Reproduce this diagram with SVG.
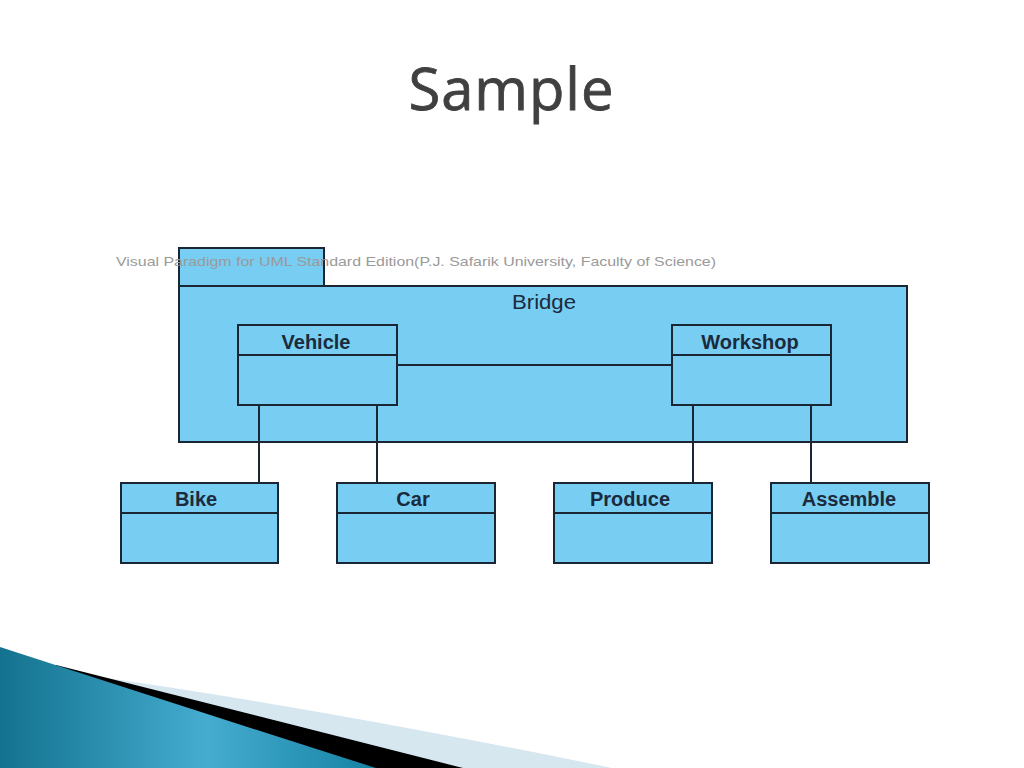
<svg xmlns="http://www.w3.org/2000/svg" width="1024" height="768" viewBox="0 0 1024 768">
<defs>
<linearGradient id="teal" x1="0" y1="0" x2="1" y2="0">
<stop offset="0" stop-color="#13728f"/>
<stop offset="0.55" stop-color="#45acd0"/>
<stop offset="1" stop-color="#1683a3"/>
</linearGradient>
<style>
.box{fill:#78cdf2;stroke:#1b2635;stroke-width:2}
.ln{stroke:#1b2635;stroke-width:2;fill:none}
.cls{font-family:"Liberation Sans",Arial,sans-serif;font-weight:bold;font-size:20px;fill:#1b2a3c;text-anchor:middle}
</style>
</defs>
<rect width="1024" height="768" fill="#ffffff"/>
<g id="decoration">
<path d="M100,677 Q330,710 612,768 L100,768 Z" fill="#d6e7f0"/>
<path d="M56,665 L463,768 L56,768 Z" fill="#000000"/>
<path d="M0,647 Q200,712 376,768 L0,768 Z" fill="url(#teal)"/>
</g>
<text x="511" y="110" font-family="Open Sans, DejaVu Sans, sans-serif" font-size="58" fill="#404040" stroke="#404040" stroke-width="0.8" text-anchor="middle" textLength="205">Sample</text>
<g id="bridge">
<rect class="box" x="179" y="248" width="145" height="38"/>
<rect class="box" x="179" y="286" width="728" height="156"/>
<text x="544" y="309" font-family="Liberation Sans, Arial, sans-serif" font-size="20" fill="#1b2a3c" text-anchor="middle" textLength="64" lengthAdjust="spacingAndGlyphs">Bridge</text>
</g>
<text x="116" y="266" font-family="Liberation Sans, Arial, sans-serif" font-size="13" fill="#9a9a9a" textLength="600" lengthAdjust="spacingAndGlyphs">Visual Paradigm for UML Standard Edition(P.J. Safarik University, Faculty of Science)</text>
<g id="connectors">
<line class="ln" x1="397" y1="365" x2="672" y2="365"/>
<line class="ln" x1="259" y1="405" x2="259" y2="483"/>
<line class="ln" x1="377" y1="405" x2="377" y2="483"/>
<line class="ln" x1="693" y1="405" x2="693" y2="483"/>
<line class="ln" x1="811" y1="405" x2="811" y2="483"/>
</g>
<g id="vehicle">
<rect class="box" x="238" y="325" width="159" height="80"/>
<line class="ln" x1="238" y1="355" x2="397" y2="355"/>
<text class="cls" x="316" y="349">Vehicle</text>
</g>
<g id="workshop">
<rect class="box" x="672" y="325" width="159" height="80"/>
<line class="ln" x1="672" y1="355" x2="831" y2="355"/>
<text class="cls" x="750" y="349">Workshop</text>
</g>
<g id="bike">
<rect class="box" x="121" y="483" width="157" height="80"/>
<line class="ln" x1="121" y1="513" x2="278" y2="513"/>
<text class="cls" x="196" y="506">Bike</text>
</g>
<g id="car">
<rect class="box" x="337" y="483" width="158" height="80"/>
<line class="ln" x1="337" y1="513" x2="495" y2="513"/>
<text class="cls" x="413" y="506">Car</text>
</g>
<g id="produce">
<rect class="box" x="554" y="483" width="158" height="80"/>
<line class="ln" x1="554" y1="513" x2="712" y2="513"/>
<text class="cls" x="630" y="506">Produce</text>
</g>
<g id="assemble">
<rect class="box" x="771" y="483" width="158" height="80"/>
<line class="ln" x1="771" y1="513" x2="929" y2="513"/>
<text class="cls" x="849" y="506">Assemble</text>
</g>
</svg>
